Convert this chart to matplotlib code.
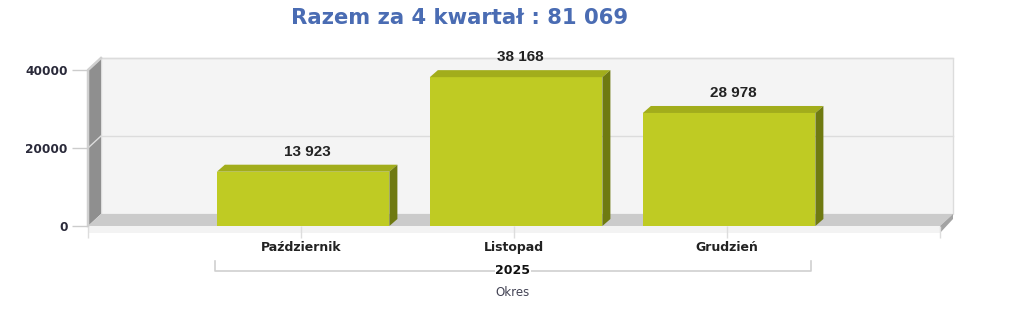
import matplotlib.pyplot as plt
from matplotlib.patches import Polygon, Rectangle

# data
months = ['Październik', 'Listopad', 'Grudzień']
values = [13923, 38168, 28978]
year_label = '2025'
axis_title = 'Okres'
total = 81069
yticks = [0, 20000, 40000]

W, H = 1024, 310
fig = plt.figure(figsize=(W / 100, H / 100), dpi=100)

# front plane of the fake 3D plot, in pixels
left_px, right_px, bottom_px, top_px = 88, 940, 226, 70
ax = fig.add_axes([left_px / W, 1 - bottom_px / H,
                   (right_px - left_px) / W, (bottom_px - top_px) / H])
ax.set_xlim(-1, 3)
ax.set_ylim(0, 40000)
for s in ax.spines.values():
    s.set_visible(False)
ax.patch.set_alpha(0)

# pixel -> data unit sizes
PX = 4 / (right_px - left_px)
PY = 40000 / (bottom_px - top_px)
wdx, wdy = 13 * PX, 12 * PY      # wall depth
bdx, bdy = 8 * PX, 7 * PY        # bar depth

def poly(pts, fc, ec='none', lw=0, z=1):
    ax.add_patch(Polygon(pts, closed=True, facecolor=fc, edgecolor=ec,
                         linewidth=lw, zorder=z, clip_on=False))

x0, x1 = -1, 3
ymax = 40000
# back wall
poly([(x0 + wdx, wdy), (x1 + wdx, wdy), (x1 + wdx, ymax + wdy), (x0 + wdx, ymax + wdy)],
     '#f4f4f4', '#dcdcdc', 1, z=0)
# grid on back wall and left wall
for t in yticks[1:]:
    ax.plot([x0 + wdx, x1 + wdx], [t + wdy, t + wdy], color='#dcdcdc', lw=1, zorder=0.5, clip_on=False)
# left wall
poly([(x0, 0), (x0 + wdx, wdy), (x0 + wdx, ymax + wdy), (x0, ymax)], '#8f8f8f', z=1)
ax.plot([x0, x0, x0 + wdx], [0, ymax, ymax + wdy], color='#d0d0d0', lw=1.8, zorder=1.2, clip_on=False)
for t in yticks[1:]:
    ax.plot([x0, x0 + wdx], [t, t + wdy], color='#dcdcdc', lw=1, zorder=1.1, clip_on=False)
# floor
poly([(x0, 0), (x1, 0), (x1 + wdx, wdy), (x0 + wdx, wdy)], '#cbcbcb', z=1)
# floor slab front and right side
poly([(x0, 0), (x1, 0), (x1, -7 * PY), (x0, -7 * PY)], '#f3f3f3', z=1)
poly([(x1, 0), (x1 + wdx, wdy), (x1 + wdx, wdy - 5 * PY), (x1, -7 * PY)], '#a3a3a3', z=1)

# bars
front_c, top_c, side_c = '#bfcb23', '#a2ad1b', '#6f7a11'
bw = 0.81
for i, v in enumerate(values):
    l, r = i - bw / 2 + 0.01, i + bw / 2 + 0.01
    ax.add_patch(Rectangle((l, 0), r - l, v, facecolor=front_c, edgecolor='none', zorder=3, clip_on=False))
    poly([(l, v), (r, v), (r + bdx, v + bdy), (l + bdx, v + bdy)], top_c, z=3)
    poly([(r, 0), (r + bdx, bdy), (r + bdx, v + bdy), (r, v)], side_c, z=3)
    ax.text((l + r) / 2 + bdx / 2, v + bdy + 6 * PY, f'{v:,}'.replace(',', ' '),
            ha='center', va='bottom', fontsize=11, fontweight='bold',
            family='Liberation Sans', color='#222222', zorder=4)

# y axis ticks
ax.set_yticks(yticks)
ax.set_yticklabels([str(t) for t in yticks])
ax.tick_params(axis='y', length=11.5, width=1, color='#cccccc', pad=3,
               labelsize=8.7, labelcolor='#2a2a3a')
for lab in ax.get_yticklabels():
    lab.set_fontweight('bold')

# x axis ticks
ax.set_xticks([-1, 0, 1, 2, 3])
ax.set_xticklabels([''] + months + [''])
ax.tick_params(axis='x', length=8.5, width=1, color='#dddddd', pad=2.5,
               labelsize=9, labelcolor='#222222')
for lab in ax.get_xticklabels():
    lab.set_fontweight('bold')

# group bracket with year
fig_tr = fig.transFigure
def fx(px): return px / W
def fy(py): return 1 - py / H
gl, gr = 215, 811
fig.add_artist(plt.Line2D([fx(gl), fx(gl), fx(gr), fx(gr)],
                          [fy(261), fy(271), fy(271), fy(261)],
                          color='#d0d0d0', lw=1.2, transform=fig_tr))
fig.text(fx(513), fy(270), year_label, ha='center', va='center', fontsize=9,
         fontweight='bold', color='#111111',
         bbox=dict(facecolor='white', edgecolor='none', pad=0.5))
fig.text(fx(513), fy(292), axis_title, ha='center', va='center', fontsize=8.5,
         color='#444455')

# title
fig.text(fx(460), fy(18), f'Razem za 4 kwartał : {total:,}'.replace(',', ' '),
         ha='center', va='center', fontsize=15.2, fontweight='bold', color='#4a6cb3')

fig.savefig('out.png', dpi=100)
